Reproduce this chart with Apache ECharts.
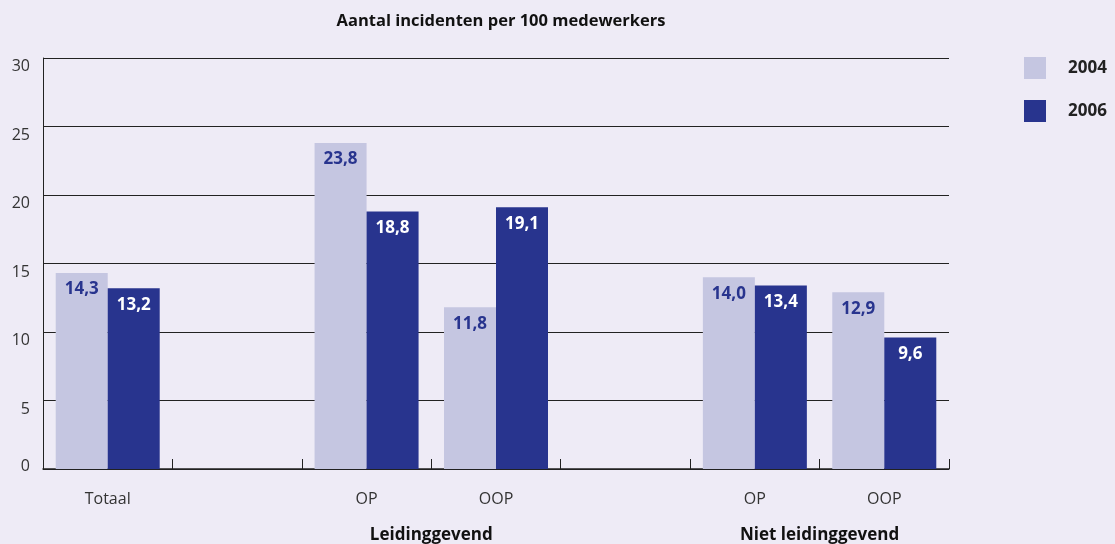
<!DOCTYPE html>
<html>
<head>
<meta charset="utf-8">
<script src="https://cdn.jsdelivr.net/npm/echarts@6/dist/echarts.min.js"></script>
<style>
  html, body { margin: 0; padding: 0; background: #eeebf6; }
  #chart { width: 1115px; height: 544px; }
</style>
</head>
<body>
<div id="chart"></div>
<script>
// Incidents per 100 employees, 2004 vs 2006
const categories = ['Totaal', '', 'OP', 'OOP', '', 'OP', 'OOP'];
const values2004 = [14.3, null, 23.8, 11.8, null, 14.0, 12.9];
const values2006 = [13.2, null, 18.8, 19.1, null, 13.4, 9.6];
const groupLabels = [
  { text: 'Leidinggevend', between: [2, 3] },
  { text: 'Niet leidinggevend', between: [5, 6] }
];
const yTicks = { min: 0, max: 30, interval: 5 };

const FONT = 'Open Sans';
const light = '#c5c6e1';
const dark = '#28348e';

const chart = echarts.init(document.getElementById('chart'), null, { renderer: 'canvas' });

const fmt = p => p.value == null ? '' : p.value.toFixed(1).replace('.', ',');

const option = {
  backgroundColor: '#eeebf6',
  animation: false,
  textStyle: { fontFamily: FONT },
  title: {
    text: 'Aantal incidenten per 100 medewerkers',
    left: 496, top: 8, textAlign: 'center',
    textStyle: { fontFamily: FONT, fontSize: 16.5, fontWeight: 'bold', color: '#111' }
  },
  legend: {
    orient: 'vertical', left: 1019, top: 52,
    itemWidth: 22, itemHeight: 22, itemGap: 21,
    icon: 'rect',
    textStyle: { fontFamily: FONT, fontSize: 17, fontWeight: 'bold', color: '#222', padding: [0, 0, 0, 17] },
    data: ['2004', '2006']
  },
  grid: { left: 43, right: 166, top: 58, bottom: 75 },
  xAxis: {
    type: 'category',
    data: categories,
    axisLine: { lineStyle: { color: '#222', width: 1.5 } },
    axisTick: { show: true, inside: true, length: 10, lineStyle: { color: '#222', width: 1 } },
    axisLabel: { margin: 22, fontFamily: FONT, fontSize: 16, color: '#333' }
  },
  yAxis: {
    type: 'value',
    min: yTicks.min, max: yTicks.max, interval: yTicks.interval,
    axisLine: { show: true, lineStyle: { color: '#222' } },
    axisTick: { show: false },
    splitLine: { lineStyle: { color: '#222', width: 1 } },
    axisLabel: {
      margin: 13, fontFamily: FONT, fontSize: 16, color: '#333',
      formatter: v => v === 0 ? '{z|0}' : '{n|' + v + '}',
      rich: {
        n: { fontFamily: FONT, fontSize: 16, color: '#333', padding: [17, 0, 0, 0] },
        z: { fontFamily: FONT, fontSize: 16, color: '#333', padding: [0, 0, 6, 0] }
      }
    }
  },
  series: [
    {
      name: '2004', type: 'bar', data: values2004,
      barWidth: 52, barGap: '0%',
      itemStyle: { color: light },
      label: {
        show: true, position: 'insideTop', distance: 8, formatter: fmt,
        fontFamily: FONT, fontSize: 17, fontWeight: 'bold', color: dark
      }
    },
    {
      name: '2006', type: 'bar', data: values2006,
      barWidth: 52, barGap: '0%',
      itemStyle: { color: dark },
      label: {
        show: true, position: 'insideTop', distance: 8, formatter: fmt,
        fontFamily: FONT, fontSize: 17, fontWeight: 'bold', color: '#fff'
      }
    }
  ]
};

chart.setOption(option);

// Group labels centred on the boundary between their two categories
const bottomY = chart.convertToPixel({ yAxisIndex: 0 }, 0);
const graphics = groupLabels.map(g => {
  const x0 = chart.convertToPixel({ xAxisIndex: 0 }, g.between[0]);
  const x1 = chart.convertToPixel({ xAxisIndex: 0 }, g.between[1]);
  return {
    type: 'text',
    x: (x0 + x1) / 2,
    y: bottomY + 66,
    style: {
      text: g.text, textAlign: 'center', textVerticalAlign: 'middle',
      fontFamily: FONT, fontSize: 17, fontWeight: 'bold', fill: '#111'
    }
  };
});
chart.setOption({ graphic: graphics });
</script>
</body>
</html>
